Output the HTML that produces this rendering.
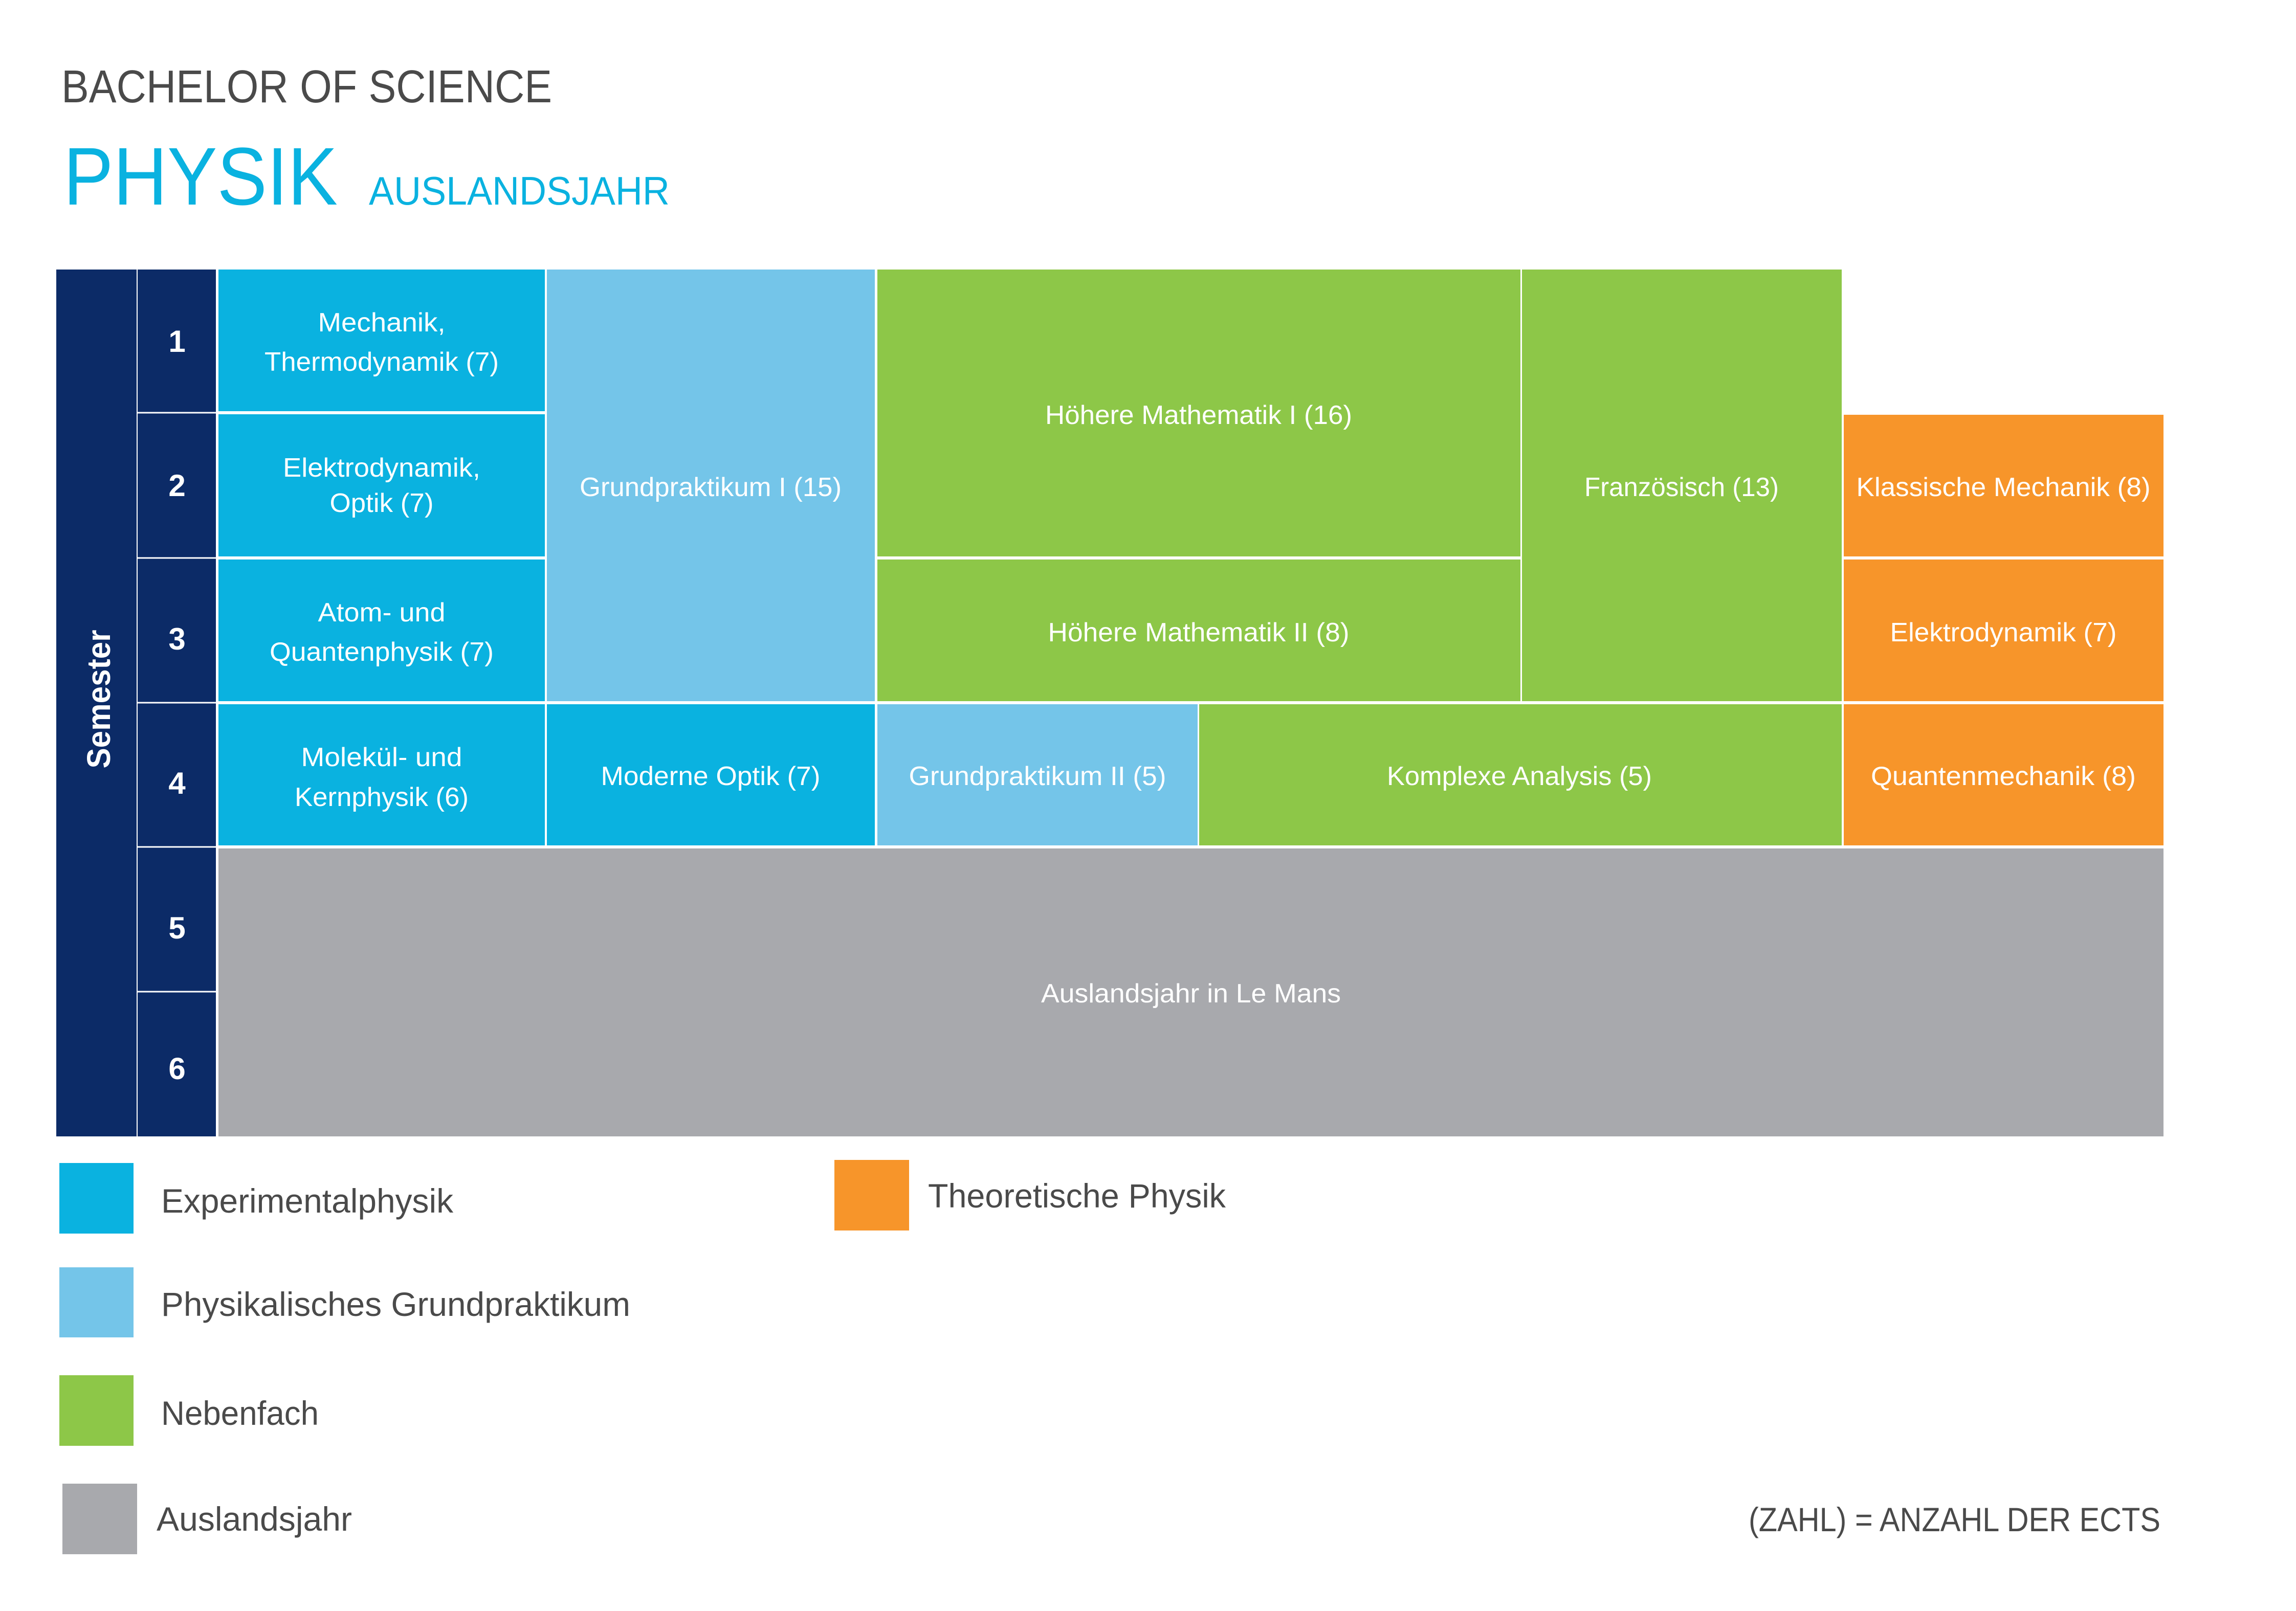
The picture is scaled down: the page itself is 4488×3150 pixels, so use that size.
<!DOCTYPE html>
<html><head><meta charset="utf-8"><style>
html,body{margin:0;padding:0;background:#fff}
svg{display:block}
text{font-family:"Liberation Sans",sans-serif}
.c{fill:#fff;font-size:52px;text-anchor:middle}
.n{fill:#fff;font-size:60px;font-weight:bold;text-anchor:middle}
.l{fill:#4a4a4a;font-size:66px}
</style></head><body>
<svg width="4488" height="3150" viewBox="0 0 4488 3150" xmlns="http://www.w3.org/2000/svg">
<rect width="4488" height="3150" fill="#fff"/>
<text x="120" y="200" font-size="90" fill="#4a4a4a" textLength="959" lengthAdjust="spacingAndGlyphs">BACHELOR OF SCIENCE</text>
<text x="124" y="400" font-size="160" fill="#0ab2e0" textLength="536" lengthAdjust="spacingAndGlyphs">PHYSIK</text>
<text x="721" y="400" font-size="78" fill="#0ab2e0" textLength="588" lengthAdjust="spacingAndGlyphs">AUSLANDSJAHR</text>

<!-- semester column -->
<rect x="110" y="527" width="157" height="1695" fill="#0c2b67"/>
<rect x="269" y="527" width="153" height="1695" fill="#0c2b67"/>
<g stroke="#fff" stroke-width="3">
<line x1="269" y1="807" x2="422" y2="807"/>
<line x1="269" y1="1091" x2="422" y2="1091"/>
<line x1="269" y1="1374" x2="422" y2="1374"/>
<line x1="269" y1="1656" x2="422" y2="1656"/>
<line x1="269" y1="1939" x2="422" y2="1939"/>
</g>
<text transform="translate(215,1367) rotate(-90)" font-size="64" font-weight="bold" fill="#fff" text-anchor="middle" textLength="271" lengthAdjust="spacingAndGlyphs">Semester</text>
<text class="n" x="346" y="688">1</text>
<text class="n" x="346" y="970">2</text>
<text class="n" x="346" y="1270">3</text>
<text class="n" x="346" y="1552">4</text>
<text class="n" x="346" y="1835">5</text>
<text class="n" x="346" y="2110">6</text>

<!-- cells -->
<g>
<rect x="427" y="527" width="638" height="277" fill="#0ab2e0"/>
<rect x="427" y="810" width="638" height="278" fill="#0ab2e0"/>
<rect x="427" y="1094" width="638" height="277" fill="#0ab2e0"/>
<rect x="427" y="1377" width="638" height="276" fill="#0ab2e0"/>
<rect x="1069" y="527" width="641" height="844" fill="#74c5e9"/>
<rect x="1069" y="1377" width="641" height="276" fill="#0ab2e0"/>
<rect x="1715" y="527" width="1257" height="561" fill="#8dc748"/>
<rect x="1715" y="1094" width="1257" height="277" fill="#8dc748"/>
<rect x="2975" y="527" width="625" height="844" fill="#8dc748"/>
<rect x="1715" y="1377" width="626" height="276" fill="#74c5e9"/>
<rect x="2344" y="1377" width="1256" height="276" fill="#8dc748"/>
<rect x="3604" y="811" width="625" height="277" fill="#f7952a"/>
<rect x="3604" y="1094" width="625" height="277" fill="#f7952a"/>
<rect x="3604" y="1377" width="625" height="276" fill="#f7952a"/>
<rect x="427" y="1659" width="3802" height="563" fill="#a8a9ad"/>
</g>

<text class="c" x="746" y="648" textLength="249" lengthAdjust="spacingAndGlyphs">Mechanik,</text>
<text class="c" x="746" y="725" textLength="458" lengthAdjust="spacingAndGlyphs">Thermodynamik (7)</text>
<text class="c" x="746" y="932" textLength="386" lengthAdjust="spacingAndGlyphs">Elektrodynamik,</text>
<text class="c" x="746" y="1001" textLength="203" lengthAdjust="spacingAndGlyphs">Optik (7)</text>
<text class="c" x="746" y="1215" textLength="249" lengthAdjust="spacingAndGlyphs">Atom- und</text>
<text class="c" x="746" y="1292" textLength="438" lengthAdjust="spacingAndGlyphs">Quantenphysik (7)</text>
<text class="c" x="746" y="1498" textLength="315" lengthAdjust="spacingAndGlyphs">Molekül- und</text>
<text class="c" x="746" y="1576" textLength="340" lengthAdjust="spacingAndGlyphs">Kernphysik (6)</text>
<text class="c" x="1389" y="970" textLength="512" lengthAdjust="spacingAndGlyphs">Grundpraktikum I (15)</text>
<text class="c" x="1389" y="1535" textLength="429" lengthAdjust="spacingAndGlyphs">Moderne Optik (7)</text>
<text class="c" x="2343" y="829" textLength="600" lengthAdjust="spacingAndGlyphs">Höhere Mathematik I (16)</text>
<text class="c" x="2343" y="1254" textLength="589" lengthAdjust="spacingAndGlyphs">Höhere Mathematik II (8)</text>
<text class="c" x="3287" y="970" textLength="380" lengthAdjust="spacingAndGlyphs">Französisch (13)</text>
<text class="c" x="2028" y="1535" textLength="503" lengthAdjust="spacingAndGlyphs">Grundpraktikum II (5)</text>
<text class="c" x="2970" y="1535" textLength="518" lengthAdjust="spacingAndGlyphs">Komplexe Analysis (5)</text>
<text class="c" x="3916" y="970" textLength="575" lengthAdjust="spacingAndGlyphs">Klassische Mechanik (8)</text>
<text class="c" x="3916" y="1254" textLength="443" lengthAdjust="spacingAndGlyphs">Elektrodynamik (7)</text>
<text class="c" x="3916" y="1535" textLength="518" lengthAdjust="spacingAndGlyphs">Quantenmechanik (8)</text>
<text class="c" x="2328" y="1960" textLength="586" lengthAdjust="spacingAndGlyphs">Auslandsjahr in Le Mans</text>

<!-- legend -->
<rect x="116" y="2274" width="145" height="138" fill="#0ab2e0"/>
<rect x="116" y="2478" width="145" height="137" fill="#74c5e9"/>
<rect x="116" y="2689" width="145" height="138" fill="#8dc748"/>
<rect x="122" y="2901" width="146" height="138" fill="#a8a9ad"/>
<rect x="1631" y="2268" width="146" height="138" fill="#f7952a"/>
<text class="l" x="315" y="2371" textLength="571" lengthAdjust="spacingAndGlyphs">Experimentalphysik</text>
<text class="l" x="315" y="2573" textLength="917" lengthAdjust="spacingAndGlyphs">Physikalisches Grundpraktikum</text>
<text class="l" x="315" y="2786" textLength="308" lengthAdjust="spacingAndGlyphs">Nebenfach</text>
<text class="l" x="306" y="2993" textLength="382" lengthAdjust="spacingAndGlyphs">Auslandsjahr</text>
<text class="l" x="1814" y="2361" textLength="582" lengthAdjust="spacingAndGlyphs">Theoretische Physik</text>
<text class="l" x="3418" y="2994" font-size="64" textLength="805" lengthAdjust="spacingAndGlyphs">(ZAHL) = ANZAHL DER ECTS</text>
</svg>
</body></html>
